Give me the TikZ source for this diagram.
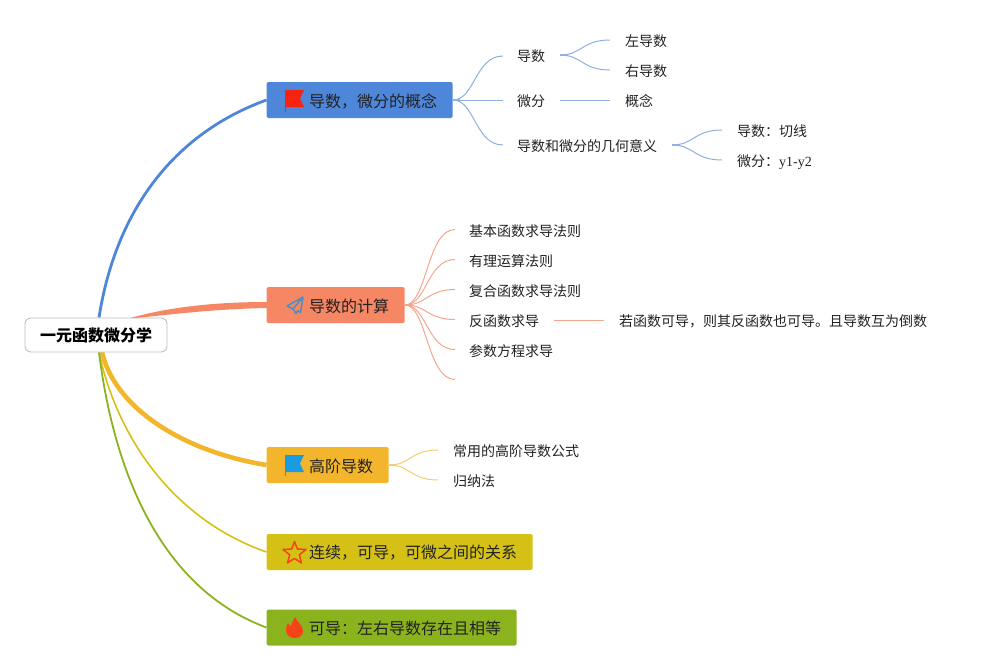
\documentclass[tikz,border=0pt]{standalone}
\usepackage{fontspec}
\usetikzlibrary{backgrounds}
\setmainfont{Liberation Serif}
\newfontfamily\cjk{Noto Sans CJK SC}
\definecolor{cblue}{HTML}{4E86D9}
\definecolor{corange}{HTML}{F58764}
\definecolor{cyellow}{HTML}{F2B52B}
\definecolor{colive}{HTML}{D5C116}
\definecolor{cgreen}{HTML}{8AB31E}
\definecolor{lblue}{HTML}{8FAFDF}
\definecolor{lorange}{HTML}{F3A68C}
\definecolor{lyellow}{HTML}{F3CD72}
\definecolor{ink}{HTML}{222222}
\definecolor{flagred}{HTML}{F5230F}
\definecolor{flagblue}{HTML}{1B9CE2}
\definecolor{planeblue}{HTML}{4F8DBE}
\definecolor{flame}{HTML}{F5431A}
\tikzset{
  x=1pt,y=-1pt,
  rootbox/.style={draw=black!25,fill=white,rounded corners=6pt,line width=0.9pt,minimum width=142pt,minimum height=34pt,inner sep=0pt,font=\fontsize{16}{16}\cjk\bfseries},
  branch/.style={rounded corners=1.5pt,anchor=west,minimum height=36pt,inner sep=0pt},
  branchtext/.style={anchor=west,inner sep=0pt,font=\fontsize{16}{16}\cjk,text=ink},
  leaf/.style={anchor=west,inner sep=0pt,font=\fontsize{14}{14}\cjk,text=ink},
}
\begin{document}
\begin{tikzpicture}
\useasboundingbox (0,0) rectangle (987,670);
% nodes
\node[rootbox] (root) at (96,335) {一元函数微分学};
\node[branch,fill=cblue,minimum width=186pt] (b1) at (266.5,100) {};
\node[branch,fill=corange,minimum width=138pt] (b2) at (266.5,305) {};
\node[branch,fill=cyellow,minimum width=122pt] (b3) at (266.5,465) {};
\node[branch,fill=colive,minimum width=266pt] (b4) at (266.5,552) {};
\node[branch,fill=cgreen,minimum width=250pt] (b5) at (266.5,627.5) {};
\node[branchtext] (t1) at (309,101) {导数，微分的概念};
\node[branchtext] (t2) at (309,306) {导数的计算};
\node[branchtext] (t3) at (309,466) {高阶导数};
\node[branchtext] (t4) at (309,553) {连续，可导，可微之间的关系};
\node[branchtext] (t5) at (309,628.5) {可导：左右导数存在且相等};
% leaves
\node[leaf] (a1) at (517,56) {导数};
\node[leaf] (a2) at (517,101) {微分};
\node[leaf] (a3) at (517,146) {导数和微分的几何意义};
\node[leaf] (a11) at (625,41) {左导数};
\node[leaf] (a12) at (625,71) {右导数};
\node[leaf] (a21) at (625,101) {概念};
\node[leaf] (a31) at (737,131) {导数：切线};
\node[leaf,anchor=base west] (a32) at (737,166) {微分：{\rmfamily y1-y2}};
\node[leaf] (c1) at (469,231) {基本函数求导法则};
\node[leaf] (c2) at (469,261) {有理运算法则};
\node[leaf] (c3) at (469,291) {复合函数求导法则};
\node[leaf] (c4) at (469,321) {反函数求导};
\node[leaf] (c5) at (469,351) {参数方程求导};
\node[leaf] (c41) at (619,321) {若函数可导，则其反函数也可导。且导数互为倒数};
\node[leaf] (d1) at (453,451) {常用的高阶导数公式};
\node[leaf] (d2) at (453,481) {归纳法};
% main connectors, behind the boxes
\begin{scope}[on background layer]
\draw[cblue,line width=2.8pt] ([xshift=3pt]root.north) .. controls (115,215) and (170,135) .. (b1.west);
\fill[corange] (130,318) .. controls (170,307) and (215,302) .. (267,302) -- (267,308) .. controls (215,309) and (175,314) .. (136,318) -- cycle;
\draw[cyellow,line width=4.6pt] (102,352) .. controls (114,406) and (180,451) .. (b3.west);
\draw[colive,line width=1.6pt] ([xshift=3pt]root.south) .. controls (118,440) and (175,520) .. (b4.west);
\draw[cgreen,line width=1.8pt] ([xshift=3pt]root.south) .. controls (115,480) and (165,590) .. (b5.west);
\end{scope}
% level 2 connectors
\newcommand{\lk}[3]{\draw[#1,line width=1pt] #2 .. controls +(22,0) and +(-28,0) .. #3;}
\newcommand{\stub}[2]{\draw[#1,line width=2pt] #2 -- +(7,0);}
\lk{lblue}{(b1.east)}{(503,56)}
\draw[lblue,line width=1pt] (b1.east) -- (503,100);
\lk{lblue}{(b1.east)}{(503,145)}
\stub{lblue}{(b1.east)}
\lk{lblue}{(560,55)}{(610,40)}
\lk{lblue}{(560,55)}{(610,70)}
\stub{lblue}{(560,55)}
\draw[lblue,line width=1pt] (560,100) -- (610,100);
\lk{lblue}{(672,145)}{(722,130)}
\lk{lblue}{(672,145)}{(722,160)}
\stub{lblue}{(672,145)}
\foreach \y in {229.5,259.5,289.5,319.5,349.5,379.5}
  {\lk{lorange}{(b2.east)}{(455,\y)}}
\stub{lorange}{(b2.east)}
\draw[lorange,line width=1pt] (554,320) -- (604,320);
\lk{lyellow}{(b3.east)}{(438,450)}
\lk{lyellow}{(b3.east)}{(438,480)}
\stub{lyellow}{(b3.east)}
% icons
\fill[flagred] (285,90) rectangle (286,112);
\fill[flagred] (286,90) -- (304,90) -- (300,98.5) -- (304,107) -- (286,107) -- cycle;
\draw[planeblue,line width=1.5pt,line join=round] (303,297) -- (287,306) -- (293,309) -- (296,313.5) -- (298,310.5) -- (300.5,312.5) -- cycle (293,309) -- (303,297);
\fill[flagblue] (285,455) rectangle (286,476);
\fill[flagblue] (286,455) -- (304,455) -- (300,463.5) -- (304,472) -- (286,472) -- cycle;
\draw[flame,line width=1.5pt,line join=round] (294.5,541.5) -- (297.4,549) -- (306,549.5) -- (299.3,554.8) -- (301.5,563) -- (294.5,558.4) -- (287.5,563) -- (289.7,554.8) -- (283,549.5) -- (291.6,549) -- cycle;
\fill[flame] (295,617) .. controls (297,622) and (303,625) .. (303,631) .. controls (303,635) and (300,638) .. (295,638) .. controls (290,638) and (286,635) .. (286,630) .. controls (286,627) and (287,625) .. (288,623) .. controls (289,625) and (290,626) .. (291,626) .. controls (292,623) and (293,620) .. (295,617) -- cycle;
\end{tikzpicture}
\end{document}
